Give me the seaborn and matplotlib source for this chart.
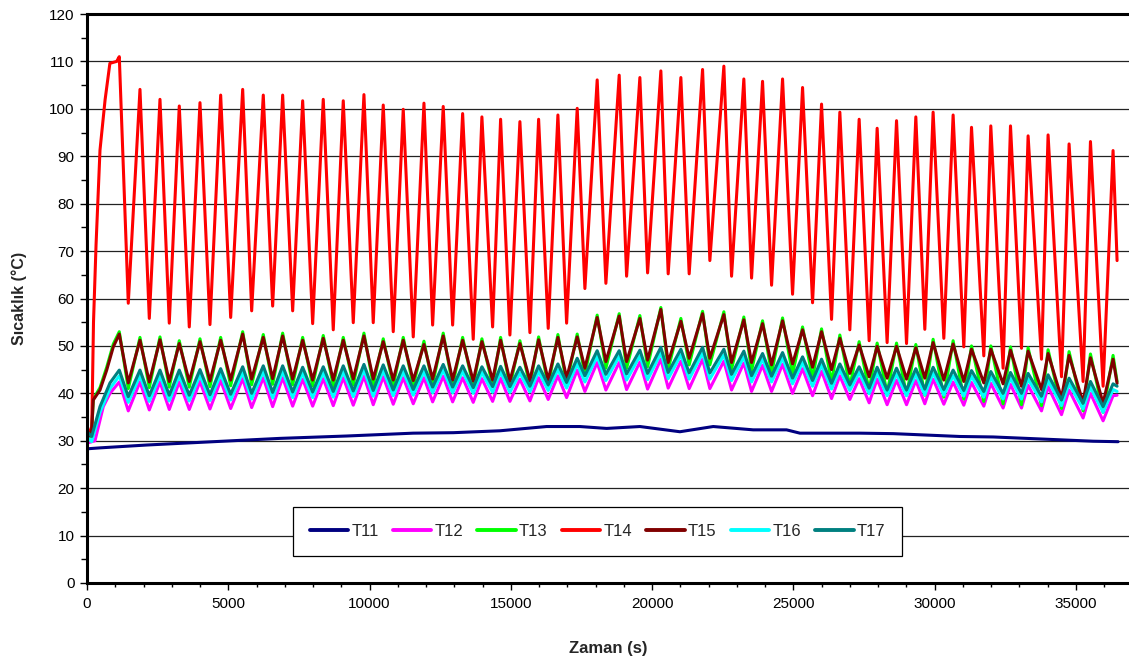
import numpy as np
import pandas as pd
import matplotlib
matplotlib.use("Agg")
import matplotlib.pyplot as plt
from matplotlib.ticker import MultipleLocator
import seaborn as sns

# zaman ekseni (s): her çevrimin tepe ve dip anları
peak_t = [1143, 1875, 2583, 3266, 3999, 4731, 5510, 6239, 6925, 7633,
          8362, 9070, 9802, 10485, 11193, 11926, 12608, 13295, 13977, 14639,
          15322, 15984, 16667, 17350, 18057, 18836, 19568, 20311, 21019, 21787,
          22541, 23248, 23910, 24618, 25326, 25998, 26646, 27329, 27966, 28652,
          29335, 29947, 30655, 31306, 31989, 32686, 33309, 34016, 34759, 35516, 36316]
trough_t = [1461, 2205, 2912, 3620, 4352, 5085, 5828, 6571, 7279, 7987,
            8716, 9424, 10131, 10839, 11547, 12233, 12941, 13670, 14356, 14968,
            15676, 16324, 16975, 17622, 18365, 19098, 19841, 20570, 21313, 22045,
            22813, 23521, 24229, 24972, 25680, 26352, 26999, 27683, 28319, 29006,
            29653, 30326, 31033, 31741, 32424, 33075, 33783, 34491, 35255, 35963]
end_t = 36458

# T14
t14_start_t = [0, 170, 230, 320, 460, 640, 810, 1050]
t14_start_v = [30.5, 33.0, 55.0, 71.3, 91.3, 101.9, 109.6, 110.0]
t14_peaks = [111.0, 104.1, 102.0, 100.6, 101.3, 102.9, 104.1, 102.9, 102.9, 101.7,
             102.0, 101.7, 103.0, 100.8, 99.9, 101.2, 100.5, 99.0, 98.3, 97.8,
             97.3, 97.8, 98.7, 100.1, 106.1, 107.1, 106.6, 108.0, 106.6, 108.3,
             109.0, 106.3, 105.8, 106.3, 104.5, 101.0, 99.3, 97.8, 95.9, 97.5,
             98.3, 99.3, 98.7, 96.1, 96.4, 96.4, 94.3, 94.5, 92.6, 93.1, 91.2]
t14_troughs = [59.0, 55.8, 54.8, 54.0, 54.5, 56.0, 57.4, 58.4, 57.4, 54.7,
               53.4, 54.9, 54.9, 53.0, 51.9, 54.4, 54.4, 51.4, 54.0, 52.3,
               52.8, 53.7, 54.8, 62.1, 63.2, 64.7, 65.4, 65.2, 65.2, 68.0,
               64.7, 64.3, 62.8, 60.9, 59.1, 55.6, 53.4, 51.1, 50.7, 50.5,
               53.5, 51.6, 49.8, 47.9, 45.3, 49.5, 47.2, 43.5, 42.5, 41.5]
t14_end = 68.0

# T15
t15_start_t = [0, 166, 223, 460, 697, 931]
t15_start_v = [30.0, 32.3, 38.6, 40.7, 44.9, 49.8]
t15_peaks = [52.5, 51.2, 51.3, 50.5, 50.9, 51.2, 52.5, 51.8, 52.1, 51.2,
             51.6, 51.2, 52.1, 50.9, 51.2, 50.3, 52.1, 51.2, 50.9, 51.2,
             50.5, 51.3, 51.8, 51.9, 56.0, 56.3, 55.8, 57.7, 55.2, 56.8,
             56.6, 55.5, 54.7, 55.3, 53.4, 53.0, 51.6, 50.2, 49.9, 49.9,
             49.6, 50.7, 50.4, 49.3, 49.3, 49.1, 48.9, 48.4, 48.0, 47.5, 47.2]
t15_troughs = [42.2, 42.4, 42.5, 42.5, 42.6, 42.8, 43.0, 43.1, 43.0, 42.8,
               42.8, 43.0, 43.0, 42.8, 42.7, 43.0, 42.8, 42.6, 42.8, 42.6,
               42.7, 42.8, 43.2, 45.3, 46.7, 46.7, 47.0, 46.5, 47.4, 47.4,
               46.5, 46.5, 46.0, 46.2, 45.5, 45.0, 44.2, 43.5, 43.2, 43.0,
               43.2, 42.8, 42.5, 42.2, 42.0, 41.5, 40.8, 39.0, 38.0, 37.9]
t15_end = 42.1

# T13
t13_start_t = [0, 166, 223, 460, 697, 931]
t13_start_v = [29.5, 32.0, 38.8, 41.2, 45.5, 50.4]
t13_peaks = [53.0, 51.8, 51.9, 51.1, 51.5, 51.8, 53.0, 52.4, 52.7, 51.8,
             52.2, 51.8, 52.7, 51.5, 51.8, 51.0, 52.7, 51.8, 51.5, 51.8,
             51.1, 51.9, 52.4, 52.5, 56.5, 56.8, 56.4, 58.1, 55.8, 57.3,
             57.2, 56.1, 55.3, 55.9, 54.0, 53.6, 52.3, 50.9, 50.6, 50.6,
             50.3, 51.4, 51.1, 50.0, 50.0, 49.8, 49.6, 49.2, 48.8, 48.3, 48.0]
t13_troughs = [41.0, 41.2, 41.3, 41.3, 41.4, 41.6, 41.8, 41.9, 41.8, 41.6,
               41.6, 41.8, 41.8, 41.6, 41.5, 41.8, 41.6, 41.4, 41.6, 41.4,
               41.5, 41.6, 42.0, 44.0, 45.3, 45.3, 45.6, 45.1, 46.0, 46.0,
               45.1, 44.8, 44.2, 44.0, 43.2, 42.4, 41.5, 40.6, 40.0, 39.6,
               39.6, 39.2, 38.8, 38.3, 37.8, 37.6, 37.4, 36.8, 36.3, 36.0]
t13_end = 42.5

# T17
t17_start_t = [0, 166, 460, 814]
t17_start_v = [31.9, 30.9, 37.2, 42.2]
t17_peaks = [44.9, 44.9, 44.9, 44.9, 45.0, 45.2, 45.6, 45.8, 45.8, 45.5,
             45.6, 45.8, 46.1, 46.0, 45.8, 45.8, 46.1, 45.8, 45.6, 45.7,
             45.5, 45.8, 46.2, 47.4, 49.0, 49.0, 49.1, 49.7, 49.3, 49.7,
             49.3, 48.9, 48.4, 48.6, 47.7, 47.2, 46.2, 45.6, 45.5, 45.3,
             45.2, 45.5, 44.9, 44.8, 44.6, 44.4, 44.2, 43.9, 43.2, 42.5, 42.0]
t17_troughs = [39.3, 39.5, 39.6, 39.6, 39.7, 39.8, 40.0, 40.2, 40.3, 40.3,
               40.4, 40.5, 40.6, 40.7, 40.8, 41.3, 41.3, 41.2, 41.4, 41.4,
               41.5, 41.8, 42.3, 43.7, 44.0, 44.1, 44.2, 44.4, 44.3, 44.3,
               44.0, 43.7, 43.6, 43.2, 42.7, 42.1, 41.8, 41.1, 40.7, 40.7,
               40.9, 40.8, 40.6, 40.4, 40.0, 40.0, 39.4, 38.6, 37.9, 37.2]
t17_end = 41.5

# T16
t16_start_t = [0, 166, 460, 814]
t16_start_v = [30.8, 29.8, 36.0, 41.0]
t16_peaks = [43.7, 43.7, 43.7, 43.7, 43.8, 44.0, 44.4, 44.6, 44.6, 44.3,
             44.4, 44.6, 44.9, 44.8, 44.6, 44.6, 44.9, 44.6, 44.4, 44.5,
             44.3, 44.6, 45.0, 46.2, 47.8, 47.8, 47.9, 48.5, 48.1, 48.5,
             48.1, 47.7, 47.2, 47.4, 46.5, 46.0, 45.0, 44.4, 44.3, 44.1,
             44.0, 44.3, 43.7, 43.6, 43.4, 43.2, 43.0, 42.7, 42.0, 41.3, 40.8]
t16_troughs = [38.1, 38.3, 38.4, 38.4, 38.5, 38.6, 38.8, 39.0, 39.1, 39.1,
               39.2, 39.3, 39.4, 39.5, 39.6, 40.1, 40.1, 40.0, 40.2, 40.2,
               40.3, 40.6, 41.1, 42.4, 42.7, 42.8, 42.9, 43.1, 43.0, 43.0,
               42.7, 42.4, 42.4, 42.0, 41.5, 40.9, 40.6, 39.9, 39.5, 39.5,
               39.7, 39.6, 39.4, 39.2, 38.8, 38.8, 38.2, 37.4, 36.7, 36.0]
t16_end = 40.4

# T12
t12_start_t = [0, 283, 577, 814]
t12_start_v = [29.5, 30.0, 37.2, 40.0]
t12_peaks = [42.4, 42.4, 42.4, 42.4, 42.5, 42.7, 43.1, 43.3, 43.3, 43.0,
             43.1, 43.3, 43.6, 43.5, 43.3, 43.3, 43.6, 43.3, 43.1, 43.2,
             43.0, 43.3, 43.7, 44.9, 46.5, 46.5, 46.6, 47.2, 46.8, 47.2,
             46.8, 46.4, 45.9, 46.1, 45.2, 44.7, 43.7, 43.1, 43.0, 42.8,
             42.7, 43.0, 42.4, 42.3, 42.1, 41.9, 41.7, 41.4, 40.7, 40.0, 39.5]
t12_troughs = [36.3, 36.5, 36.6, 36.6, 36.7, 36.8, 37.0, 37.2, 37.3, 37.3,
               37.4, 37.5, 37.6, 37.7, 37.8, 38.2, 38.2, 38.1, 38.3, 38.3,
               38.4, 38.7, 39.1, 40.4, 40.7, 40.8, 40.9, 41.1, 41.0, 41.0,
               40.7, 40.4, 40.4, 40.0, 39.5, 38.9, 38.7, 38.0, 37.6, 37.6,
               37.8, 37.7, 37.5, 37.3, 36.9, 36.9, 36.3, 35.5, 34.8, 34.2]
t12_end = 39.6

# T11 (yavaş değişen)
t11_t = [0, 460, 2113, 4470, 6830, 9190, 11546, 12962, 14614, 16267,
         17445, 18390, 19570, 20985, 22164, 23578, 24760, 25232, 27355, 28534,
         29713, 30892, 32071, 33251, 34430, 35609, 36494]
t11_v = [28.3, 28.5, 29.1, 29.8, 30.5, 31.0, 31.6, 31.7, 32.1, 33.0,
         33.0, 32.6, 33.0, 31.9, 33.0, 32.3, 32.3, 31.6, 31.6, 31.5,
         31.2, 30.9, 30.8, 30.5, 30.2, 29.9, 29.8]


def build(start_t, start_v, peaks, troughs, end_v):
    t = list(start_t)
    v = list(start_v)
    for i in range(len(peaks)):
        t.append(peak_t[i])
        v.append(peaks[i])
        if i < len(troughs):
            t.append(trough_t[i])
            v.append(troughs[i])
    t.append(end_t)
    v.append(end_v)
    return pd.DataFrame({"t": t, "v": v})


series = [
    ("T11", pd.DataFrame({"t": t11_t, "v": t11_v}), "#000080"),
    ("T12", build(t12_start_t, t12_start_v, t12_peaks, t12_troughs, t12_end), "#FF00FF"),
    ("T13", build(t13_start_t, t13_start_v, t13_peaks, t13_troughs, t13_end), "#00FF00"),
    ("T14", build(t14_start_t, t14_start_v, t14_peaks, t14_troughs, t14_end), "#FF0000"),
    ("T15", build(t15_start_t, t15_start_v, t15_peaks, t15_troughs, t15_end), "#800000"),
    ("T16", build(t16_start_t, t16_start_v, t16_peaks, t16_troughs, t16_end), "#00FFFF"),
    ("T17", build(t17_start_t, t17_start_v, t17_peaks, t17_troughs, t17_end), "#008080"),
]

sns.set_style("white")
plt.rcParams["font.family"] = ["Liberation Sans", "DejaVu Sans"]

fig = plt.figure(figsize=(11.29, 6.64), dpi=100)
ax = fig.add_axes([87 / 1129, 81 / 664, 1042 / 1129, 569 / 664])

for name, df, color in series:
    sns.lineplot(data=df, x="t", y="v", color=color, linewidth=2.2, label=name,
                 ax=ax, sort=False, estimator=None)

ax.set_xlim(0, 36880)
ax.set_ylim(0, 120)
ax.xaxis.set_major_locator(MultipleLocator(5000))
ax.xaxis.set_minor_locator(MultipleLocator(1000))
ax.yaxis.set_major_locator(MultipleLocator(10))
ax.yaxis.set_minor_locator(MultipleLocator(5))
ax.grid(axis="y", which="major", color="#222222", linewidth=0.9)
ax.set_axisbelow(True)

ax.tick_params(axis="both", which="both", direction="out", colors="black",
               labelsize=11, left=True, bottom=True)
ax.tick_params(axis="x", which="major", length=5, width=1, pad=5)
ax.tick_params(axis="x", which="minor", length=3, width=1)
ax.tick_params(axis="y", which="major", length=5, width=1, pad=4)
ax.tick_params(axis="y", which="minor", length=4, width=1)

for side in ["left", "top", "bottom"]:
    ax.spines[side].set_visible(True)
    ax.spines[side].set_color("black")
    ax.spines[side].set_linewidth(2.2)
ax.spines["right"].set_visible(False)

ax.set_xlabel("Zaman (s)", fontsize=12, fontweight="bold", labelpad=22)
ax.set_ylabel("Sıcaklık (°C)", fontsize=11.5, fontweight="bold", labelpad=16)

leg = ax.legend(loc="center", bbox_to_anchor=(0.49, 0.0905), ncol=7, fontsize=12,
                frameon=True, fancybox=False, edgecolor="black", framealpha=1,
                handlelength=2.3, handletextpad=0.2, columnspacing=0.85,
                borderpad=1.0, borderaxespad=0)
leg.get_frame().set_linewidth(0.9)
for line in leg.get_lines():
    line.set_linewidth(2.8)

fig.savefig("out.png", dpi=100)
